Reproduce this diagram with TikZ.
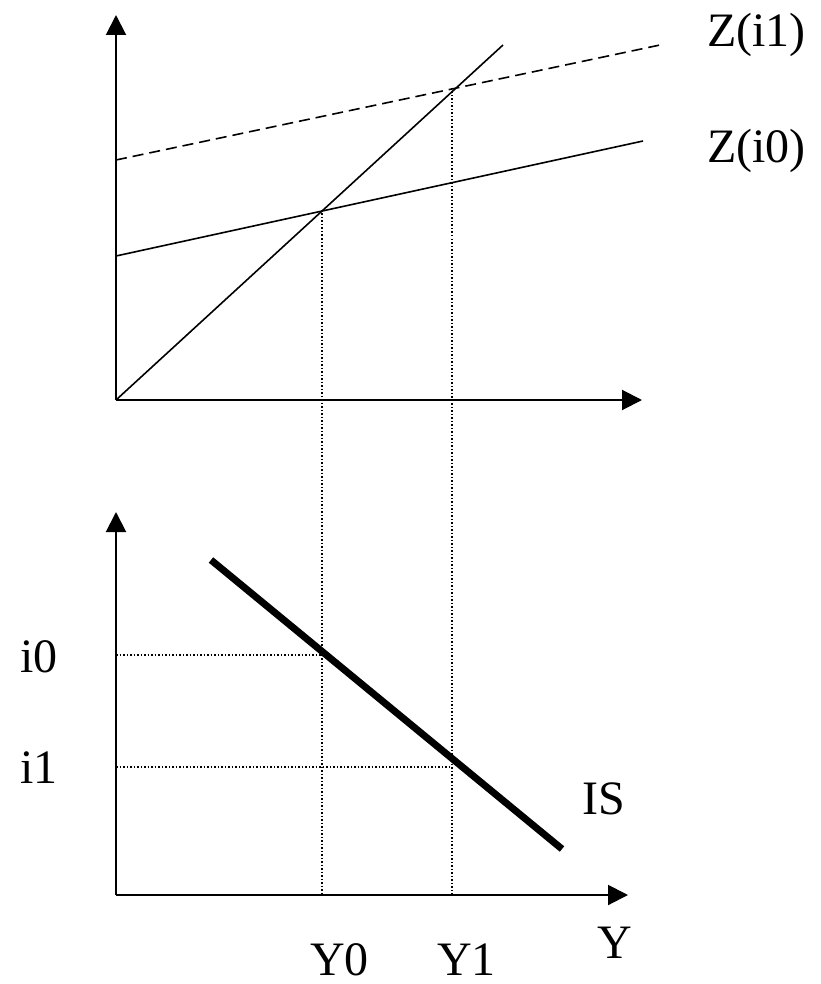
\documentclass[tikz,border=0pt]{standalone}
\usepackage{fontspec}
\setmainfont{Liberation Serif}
\usetikzlibrary{arrows.meta}
\tikzset{
  axis/.style={line width=2pt,-{Triangle[length=20pt,width=20pt]}},
  curve/.style={line width=1.6pt},
  shifted/.style={curve,dash pattern=on 11pt off 6pt},
  isline/.style={line width=7pt},
  guide/.style={line width=1.2pt,dash pattern=on 1.5pt off 2pt},
  lbl/.style={font=\fontsize{48}{58}\selectfont,anchor=base west,inner sep=0pt}
}
\begin{document}
\begin{tikzpicture}[x=1pt,y=-1pt]
  \useasboundingbox (0,0) rectangle (820,984);
  % upper panel: demand Z against output Y
  \coordinate (O1) at (116,400);
  \coordinate (top1) at (116,15);
  \coordinate (right1) at (642,400);
  \coordinate (diag) at (503,45);
  \coordinate (A) at (322,210);
  \coordinate (B) at (452,88);
  \coordinate (z0s) at (116,256);
  \coordinate (z0e) at (643,141);
  \coordinate (z1s) at (116,160);
  \coordinate (z1e) at (660,45);
  \draw[axis] (O1) -- (top1);
  \draw[axis] (O1) -- (right1);
  \draw[curve] (O1) -- (diag);
  \draw[curve] (z0s) -- (z0e);
  \draw[shifted] (z1s) -- (z1e);
  \node[lbl] (lz1) at (707,47) {Z(i1)};
  \node[lbl] (lz0) at (707,163) {Z(i0)};
  % lower panel: IS curve
  \coordinate (O2) at (116,895);
  \coordinate (top2) at (116,512);
  \coordinate (right2) at (628,895);
  \coordinate (iss) at (211,560);
  \coordinate (ise) at (562,849);
  \coordinate (P0) at (322,655);
  \coordinate (P1) at (452,767);
  \draw[axis] (O2) -- (top2);
  \draw[axis] (O2) -- (right2);
  \draw[isline] (iss) -- (ise);
  % dotted guides between the panels
  \draw[guide] (A) -- (A |- O2);
  \draw[guide] (B) -- (B |- O2);
  \draw[guide] (O2 |- P0) -- (P0);
  \draw[guide] (O2 |- P1) -- (P1);
  \node[lbl] (li0) at (20,672) {i0};
  \node[lbl] (li1) at (20,783) {i1};
  \node[lbl] (ly0) at (310,975) {Y0};
  \node[lbl] (ly1) at (437,975) {Y1};
  \node[lbl] (ly) at (597,958) {Y};
  \node[lbl] (lis) at (582,814) {IS};
\end{tikzpicture}
\end{document}
